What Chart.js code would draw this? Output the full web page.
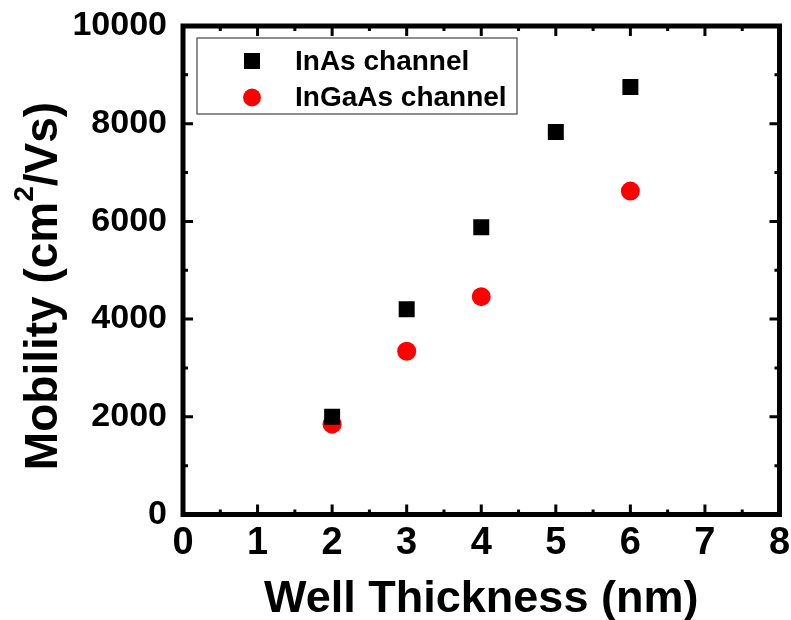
<!DOCTYPE html>
<html>
<head>
<meta charset="utf-8">
<script src="https://cdn.jsdelivr.net/npm/chart.js@4.4.0/dist/chart.umd.min.js"></script>
<style>
  html, body { margin: 0; padding: 0; background: #fff; }
  #wrap { width: 791px; height: 620px; }
</style>
</head>
<body>
<div id="wrap"><canvas id="c" width="791" height="620"></canvas></div>
<script>
/* data */
var wellThickness = [2, 3, 4, 5, 6];
var inasMobility = [2000, 4200, 5880, 7830, 8750];
var ingaasThickness = [2, 3, 4, 6];
var ingaasMobility = [1850, 3340, 4460, 6620];
var xTicks = [0, 1, 2, 3, 4, 5, 6, 7, 8];
var yTicks = [0, 2000, 4000, 6000, 8000, 10000];

var FONT = "'Liberation Sans', Arial, sans-serif";

function pts(xs, ys) {
  return xs.map(function (x, i) { return { x: x, y: ys[i] }; });
}

/* frame, inward ticks on all four sides, legend box, axis titles */
var framePlugin = {
  id: "frame",
  afterDraw: function (chart) {
    var ctx = chart.ctx;
    var a = chart.chartArea;
    var xs = chart.scales.x, ys = chart.scales.y;
    ctx.save();
    ctx.strokeStyle = "#000";
    ctx.lineWidth = 3;
    var v, p;
    for (v = 0; v <= 8; v += 0.5) {
      p = xs.getPixelForValue(v);
      var len = (v % 1 === 0) ? 10 : 5;
      ctx.beginPath();
      ctx.moveTo(p, a.bottom); ctx.lineTo(p, a.bottom - len);
      ctx.moveTo(p, a.top); ctx.lineTo(p, a.top + len);
      ctx.stroke();
    }
    for (v = 0; v <= 10000; v += 1000) {
      p = ys.getPixelForValue(v);
      var l2 = (v % 2000 === 0) ? 10 : 5;
      ctx.beginPath();
      ctx.moveTo(a.left, p); ctx.lineTo(a.left + l2, p);
      ctx.moveTo(a.right, p); ctx.lineTo(a.right - l2, p);
      ctx.stroke();
    }
    ctx.lineWidth = 5;
    ctx.strokeRect(a.left, a.top, a.right - a.left, a.bottom - a.top);

    /* legend */
    ctx.lineWidth = 1.2;
    ctx.strokeStyle = "#444";
    ctx.strokeRect(197, 38, 320, 76);
    ctx.font = "bold 28px " + FONT;
    ctx.textBaseline = "middle";
    ctx.textAlign = "left";
    chart.data.datasets.forEach(function (ds, i) {
      var cy = 61 + i * 36.5;
      ctx.fillStyle = ds.backgroundColor;
      if (ds.pointStyle === "rect") {
        ctx.fillRect(252 - 8, cy - 8, 16, 16);
      } else {
        ctx.beginPath();
        ctx.arc(252, cy, 9, 0, Math.PI * 2);
        ctx.fill();
      }
      ctx.fillStyle = "#000";
      ctx.fillText(ds.label, 295, cy + 1);
    });

    /* x title */
    ctx.fillStyle = "#000";
    ctx.textBaseline = "alphabetic";
    ctx.textAlign = "center";
    ctx.font = "bold 45px " + FONT;
    ctx.fillText("Well Thickness (nm)", (a.left + a.right) / 2, 612);

    /* y title with superscript */
    var main = "bold 46px " + FONT, sup = "bold 28px " + FONT;
    var p1 = "Mobility (cm", p2 = "2", p3 = "/Vs)";
    ctx.font = main;
    var w1 = ctx.measureText(p1).width, w3 = ctx.measureText(p3).width;
    ctx.font = sup;
    var w2 = ctx.measureText(p2).width;
    var total = w1 + w2 + w3;
    ctx.translate(57, 286);
    ctx.rotate(-Math.PI / 2);
    ctx.textAlign = "left";
    var sx = -total / 2;
    ctx.font = main;
    ctx.fillText(p1, sx, 0);
    ctx.font = sup;
    ctx.fillText(p2, sx + w1, -24);
    ctx.font = main;
    ctx.fillText(p3, sx + w1 + w2, 0);
    ctx.restore();
  }
};

new Chart(document.getElementById("c"), {
  type: "scatter",
  data: {
    datasets: [
      {
        label: "InAs channel",
        data: pts(wellThickness, inasMobility),
        pointStyle: "rect",
        pointRadius: 11.3,
        backgroundColor: "#000",
        borderColor: "#000",
        borderWidth: 0
      },
      {
        label: "InGaAs channel",
        data: pts(ingaasThickness, ingaasMobility),
        pointStyle: "circle",
        pointRadius: 9.5,
        backgroundColor: "#ff0000",
        borderColor: "#ff0000",
        borderWidth: 0
      }
    ]
  },
  options: {
    responsive: false,
    animation: false,
    devicePixelRatio: 1,
    layout: { padding: { top: 26, right: 11.5, left: 0, bottom: 0 } },
    plugins: { legend: { display: false }, tooltip: { enabled: false } },
    scales: {
      x: {
        type: "linear",
        min: 0, max: 8,
        afterBuildTicks: function (s) { s.ticks = xTicks.map(function (v) { return { value: v }; }); },
        afterFit: function (s) { s.height = 105.5; s.paddingLeft = 0; s.paddingRight = 0; },
        grid: { display: false, drawTicks: false },
        border: { display: false },
        ticks: { color: "#000", padding: 6, font: { family: FONT, size: 38, weight: "bold" }, maxRotation: 0 },
        title: { display: false }
      },
      y: {
        type: "linear",
        min: 0, max: 10000,
        afterBuildTicks: function (s) { s.ticks = yTicks.map(function (v) { return { value: v }; }); },
        afterFit: function (s) { s.width = 183; s.paddingTop = 0; s.paddingBottom = 0; },
        grid: { display: false, drawTicks: false },
        border: { display: false },
        ticks: {
          color: "#000", padding: 16, font: { family: FONT, size: 34, weight: "bold" },
          callback: function (v) { return String(v); }
        },
        title: { display: false }
      }
    }
  },
  plugins: [framePlugin]
});
</script>
</body>
</html>
